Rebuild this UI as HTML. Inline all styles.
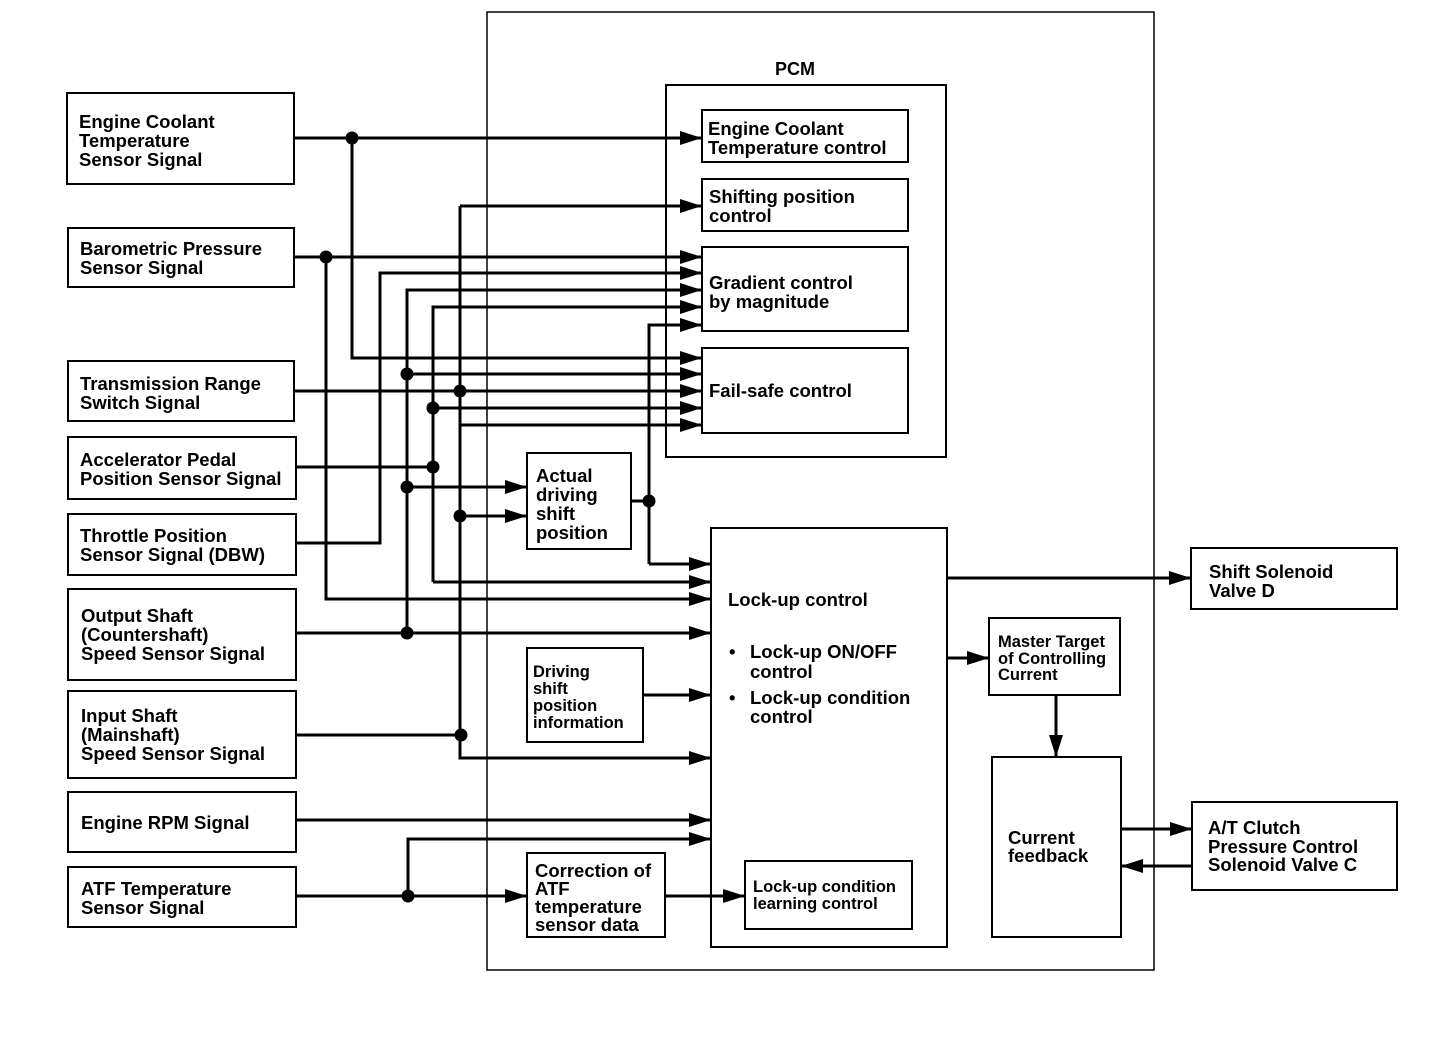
<!DOCTYPE html>
<html><head><meta charset="utf-8"><style>
html,body{margin:0;padding:0;background:#fff;}
svg{display:block;}
text{font-family:"Liberation Sans",Arial,sans-serif;font-weight:bold;fill:#000;}
</style></head><body>
<svg width="1456" height="1042" viewBox="0 0 1456 1042" xmlns="http://www.w3.org/2000/svg">
<defs>
<marker id="a" markerUnits="userSpaceOnUse" markerWidth="24" markerHeight="16" refX="22" refY="8" orient="auto">
<polygon points="0,1 22,8 0,15" fill="#000"/>
</marker>
</defs>
<rect x="487" y="12" width="667" height="958" fill="none" stroke="#000" stroke-width="1.5"/>
<text x="775" y="75" font-size="18">PCM</text>
<rect x="666" y="85" width="280" height="372" fill="none" stroke="#000" stroke-width="2"/>
<g fill="none" stroke="#000" stroke-width="2">
<rect x="67" y="93" width="227" height="91"/>
<rect x="68" y="228" width="226" height="59"/>
<rect x="68" y="361" width="226" height="60"/>
<rect x="68" y="437" width="228" height="62"/>
<rect x="68" y="514" width="228" height="61"/>
<rect x="68" y="589" width="228" height="91"/>
<rect x="68" y="691" width="228" height="87"/>
<rect x="68" y="792" width="228" height="60"/>
<rect x="68" y="867" width="228" height="60"/>
<rect x="702" y="110" width="206" height="52"/>
<rect x="702" y="179" width="206" height="52"/>
<rect x="702" y="247" width="206" height="84"/>
<rect x="702" y="348" width="206" height="85"/>
<rect x="527" y="453" width="104" height="96"/>
<rect x="527" y="648" width="116" height="94"/>
<rect x="527" y="853" width="138" height="84"/>
<rect x="711" y="528" width="236" height="419"/>
<rect x="745" y="861" width="167" height="68"/>
<rect x="1191" y="548" width="206" height="61"/>
<rect x="989" y="618" width="131" height="77"/>
<rect x="992" y="757" width="129" height="180"/>
<rect x="1192" y="802" width="205" height="88"/>
</g>
<g fill="none" stroke="#000" stroke-width="3" stroke-linejoin="miter">
<path d="M294 138 H702" marker-end="url(#a)"/>
<path d="M352 138 V358 H702" marker-end="url(#a)"/>
<path d="M294 257 H702" marker-end="url(#a)"/>
<path d="M326 257 V599 H711" marker-end="url(#a)"/>
<path d="M296 543 H380 V273 H702" marker-end="url(#a)"/>
<path d="M296 633 H711" marker-end="url(#a)"/>
<path d="M407 633 V290 H702" marker-end="url(#a)"/>
<path d="M407 374 H702" marker-end="url(#a)"/>
<path d="M407 487 H527" marker-end="url(#a)"/>
<path d="M296 467 H433"/>
<path d="M433 582 V307 H702" marker-end="url(#a)"/>
<path d="M433 582 H711" marker-end="url(#a)"/>
<path d="M433 408 H702" marker-end="url(#a)"/>
<path d="M294 391 H702" marker-end="url(#a)"/>
<path d="M460 206 H702" marker-end="url(#a)"/>
<path d="M460 206 V758 H711" marker-end="url(#a)"/>
<path d="M460 425 H702" marker-end="url(#a)"/>
<path d="M460 516 H527" marker-end="url(#a)"/>
<path d="M296 735 H460"/>
<path d="M631 501 H649"/>
<path d="M649 564 V325 H702" marker-end="url(#a)"/>
<path d="M649 564 H711" marker-end="url(#a)"/>
<path d="M643 695 H711" marker-end="url(#a)"/>
<path d="M296 820 H711" marker-end="url(#a)"/>
<path d="M296 896 H527" marker-end="url(#a)"/>
<path d="M408 896 V839 H711" marker-end="url(#a)"/>
<path d="M665 896 H745" marker-end="url(#a)"/>
<path d="M947 578 H1191" marker-end="url(#a)"/>
<path d="M947 658 H989" marker-end="url(#a)"/>
<path d="M1056 695 V757" marker-end="url(#a)"/>
<path d="M1121 829 H1192" marker-end="url(#a)"/>
<path d="M1192 866 H1121" marker-end="url(#a)"/>
</g>
<g fill="#000">
<circle cx="352" cy="138" r="6.5"/><circle cx="326" cy="257" r="6.5"/>
<circle cx="407" cy="374" r="6.5"/><circle cx="460" cy="391" r="6.5"/>
<circle cx="433" cy="408" r="6.5"/><circle cx="433" cy="467" r="6.5"/>
<circle cx="407" cy="487" r="6.5"/><circle cx="460" cy="516" r="6.5"/>
<circle cx="649" cy="501" r="6.5"/><circle cx="407" cy="633" r="6.5"/>
<circle cx="461" cy="735" r="6.5"/><circle cx="408" cy="896" r="6.5"/>
</g>
<g font-size="18.5">
<text x="79" y="128">Engine Coolant</text><text x="79" y="147">Temperature</text><text x="79" y="166">Sensor Signal</text>
<text x="80" y="255">Barometric Pressure</text><text x="80" y="274">Sensor Signal</text>
<text x="80" y="390">Transmission Range</text><text x="80" y="409">Switch Signal</text>
<text x="80" y="466">Accelerator Pedal</text><text x="80" y="485">Position Sensor Signal</text>
<text x="80" y="542">Throttle Position</text><text x="80" y="561">Sensor Signal (DBW)</text>
<text x="81" y="622">Output Shaft</text><text x="81" y="641">(Countershaft)</text><text x="81" y="660">Speed Sensor Signal</text>
<text x="81" y="722">Input Shaft</text><text x="81" y="741">(Mainshaft)</text><text x="81" y="760">Speed Sensor Signal</text>
<text x="81" y="829">Engine RPM Signal</text>
<text x="81" y="895">ATF Temperature</text><text x="81" y="914">Sensor Signal</text>
<text x="708" y="135">Engine Coolant</text><text x="708" y="154">Temperature control</text>
<text x="709" y="203">Shifting position</text><text x="709" y="222">control</text>
<text x="709" y="289">Gradient control</text><text x="709" y="308">by magnitude</text>
<text x="709" y="397">Fail-safe control</text>
<text x="536" y="482">Actual</text><text x="536" y="501">driving</text><text x="536" y="520">shift</text><text x="536" y="539">position</text>
<text x="728" y="606">Lock-up control</text>
<text x="729" y="658">•</text><text x="750" y="658">Lock-up ON/OFF</text><text x="750" y="678">control</text>
<text x="729" y="704">•</text><text x="750" y="704">Lock-up condition</text><text x="750" y="723">control</text>
<text x="1209" y="578">Shift Solenoid</text><text x="1209" y="597">Valve D</text>
<text x="1208" y="834">A/T Clutch</text><text x="1208" y="853">Pressure Control</text><text x="1208" y="871">Solenoid Valve C</text>
<text x="1008" y="844">Current</text><text x="1008" y="862">feedback</text>
<text x="535" y="877">Correction of</text><text x="535" y="895">ATF</text><text x="535" y="913">temperature</text><text x="535" y="931">sensor data</text>
</g>
<g font-size="16.5">
<text x="533" y="677">Driving</text><text x="533" y="694">shift</text><text x="533" y="711">position</text><text x="533" y="728">information</text>
<text x="998" y="647">Master Target</text><text x="998" y="664">of Controlling</text><text x="998" y="680">Current</text>
<text x="753" y="892">Lock-up condition</text><text x="753" y="909">learning control</text>
</g>
</svg>
</body></html>
